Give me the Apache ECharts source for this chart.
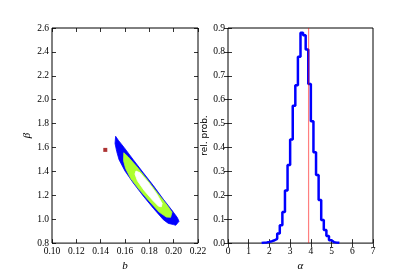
<!DOCTYPE html>
<html>
<head>
<meta charset="utf-8">
<script src="https://cdn.jsdelivr.net/npm/echarts@6/dist/echarts.min.js"></script>
<style>
html,body{margin:0;padding:0;background:#fff;}
#main{width:415px;height:277px;}
</style>
</head>
<body>
<div id="main"></div>
<script>
// left panel: contour outlines in (b, beta)
var outerContour = [[0.1523,1.694],[0.1545,1.661],[0.1592,1.601],[0.1668,1.498],[0.1750,1.389],[0.1833,1.281],[0.1915,1.167],[0.1984,1.077],[0.2030,1.014],[0.2044,0.982],[0.2017,0.949],[0.1997,0.955],[0.1956,0.965],[0.1915,0.996],[0.1833,1.091],[0.1750,1.194],[0.1668,1.303],[0.1600,1.403],[0.1551,1.498],[0.1532,1.566],[0.1518,1.634]];
var midContour = [[0.1590,1.556],[0.1627,1.520],[0.1698,1.438],[0.1780,1.335],[0.1862,1.226],[0.1945,1.118],[0.1986,1.058],[0.1975,1.016],[0.1940,1.018],[0.1880,1.060],[0.1796,1.155],[0.1714,1.252],[0.1646,1.342],[0.1605,1.425],[0.1588,1.490]];
var innerContour = [[0.1690,1.403],[0.1723,1.389],[0.1792,1.308],[0.1860,1.213],[0.1905,1.132],[0.1899,1.104],[0.1876,1.108],[0.1824,1.162],[0.1756,1.243],[0.1702,1.322],[0.1682,1.378]];
var truePoint = [0.1438, 1.580];

// right panel: histogram of alpha
var binEdges = [1.625,1.75,1.875,2.0,2.125,2.25,2.375,2.5,2.625,2.75,2.875,3.0,3.125,3.25,3.375,3.5,3.625,3.75,3.875,4.0,4.125,4.25,4.375,4.5,4.625,4.75,4.875,5.0,5.125,5.25,5.375];
var relProb = [0.002,0.003,0.005,0.008,0.012,0.018,0.040,0.075,0.130,0.220,0.327,0.433,0.575,0.660,0.780,0.880,0.870,0.810,0.666,0.510,0.380,0.285,0.180,0.097,0.055,0.030,0.012,0.004,0.002,0.001];
var alphaTrue = 3.89;

var bTicks = [0.10, 0.22, 0.02];
var betaTicks = [0.8, 2.6, 0.2];
var alphaTicks = [0, 7, 1];
var probTicks = [0, 0.9, 0.1];

var tickFont = {fontFamily: 'Liberation Serif', fontSize: 9.5, color: '#000'};

var myChart = echarts.init(document.getElementById('main'));

var contours = [
  {pts: outerContour, color: '#0000ff'},
  {pts: midContour, color: '#adff2f'},
  {pts: innerContour, color: '#ffffff'}
];

var histData = [[binEdges[0], 0]];
for (var i = 0; i < relProb.length; i++) {
  histData.push([binEdges[i], relProb[i]]);
}
histData.push([binEdges[binEdges.length - 1], 0]);

function xAx(gi, t, dec, pos, name) {
  return {
    type: 'value', gridIndex: gi, position: pos,
    min: t[0], max: t[1], interval: t[2],
    axisLine: {show: false},
    axisTick: {show: true, inside: true, length: 4, lineStyle: {color: '#000', width: 0.8}},
    splitLine: {show: false},
    axisLabel: pos == 'bottom' ? {
      show: true, margin: 3, showMinLabel: true, showMaxLabel: true,
      fontFamily: tickFont.fontFamily, fontSize: tickFont.fontSize, color: '#000',
      formatter: function (v) { return v.toFixed(dec); }
    } : {show: false},
    name: name || '', nameLocation: 'middle', nameGap: 9,
    nameTextStyle: {fontFamily: 'Liberation Serif', fontStyle: 'italic', fontSize: 11, color: '#000'}
  };
}
function yAx(gi, t, dec, pos, name, nameFont, gap) {
  return {
    type: 'value', gridIndex: gi, position: pos,
    min: t[0], max: t[1], interval: t[2],
    axisLine: {show: false},
    axisTick: {show: true, inside: true, length: 4, lineStyle: {color: '#000', width: 0.8}},
    splitLine: {show: false},
    axisLabel: pos == 'left' ? {
      show: true, margin: 3, showMinLabel: true, showMaxLabel: true,
      fontFamily: tickFont.fontFamily, fontSize: tickFont.fontSize, color: '#000',
      formatter: function (v) { return v.toFixed(dec); }
    } : {show: false},
    name: name || '', nameLocation: 'middle', nameGap: gap || 18, nameRotate: 90,
    nameTextStyle: nameFont || {}
  };
}

var option = {
  backgroundColor: '#fff',
  animation: false,
  grid: [
    {left: 52, top: 28, width: 146, height: 221, show: true, borderColor: '#000', borderWidth: 1, backgroundColor: 'transparent'},
    {left: 228, top: 28, width: 145, height: 221, show: true, borderColor: '#000', borderWidth: 1, backgroundColor: 'transparent'}
  ],
  xAxis: [
    xAx(0, bTicks, 2, 'bottom', 'b'),
    xAx(0, bTicks, 2, 'top'),
    xAx(1, alphaTicks, 0, 'bottom', 'α'),
    xAx(1, alphaTicks, 0, 'top')
  ],
  yAxis: [
    yAx(0, betaTicks, 1, 'left', 'β', {fontFamily: 'Liberation Serif', fontStyle: 'italic', fontSize: 11, color: '#000'}, 19),
    yAx(0, betaTicks, 1, 'right'),
    yAx(1, probTicks, 1, 'left', 'rel. prob.', {fontFamily: 'DejaVu Sans', fontSize: 9, color: '#000'}, 17),
    yAx(1, probTicks, 1, 'right')
  ],
  series: [
    {
      type: 'custom', xAxisIndex: 0, yAxisIndex: 0, silent: true,
      data: contours.map(function (c) { return c.pts[0]; }),
      renderItem: function (params, api) {
        var c = contours[params.dataIndex];
        return {
          type: 'polygon',
          shape: {points: c.pts.map(function (p) { return api.coord(p); })},
          style: {fill: c.color, stroke: c.color, lineWidth: 0.8}
        };
      }
    },
    {
      type: 'scatter', xAxisIndex: 0, yAxisIndex: 0, silent: true,
      symbol: 'rect', symbolSize: 4,
      itemStyle: {color: '#990000'},
      data: [truePoint]
    },
    {
      type: 'line', xAxisIndex: 2, yAxisIndex: 2, silent: true,
      step: 'end', symbol: 'none',
      lineStyle: {color: '#0000ff', width: 2.5},
      data: histData
    },
    {
      type: 'line', xAxisIndex: 2, yAxisIndex: 2, silent: true,
      symbol: 'none',
      lineStyle: {color: 'rgba(255,0,0,0.5)', width: 1.2},
      data: [[alphaTrue, probTicks[0]], [alphaTrue, probTicks[1]]]
    }
  ]
};

myChart.setOption(option);
</script>
</body>
</html>
